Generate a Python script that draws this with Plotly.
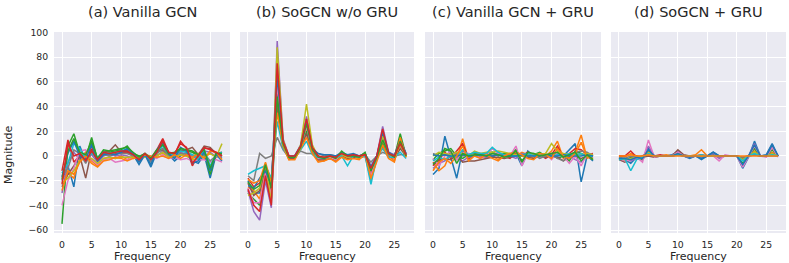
import plotly.graph_objects as go

freq = list(range(28))

titles = ["(a) Vanilla GCN", "(b) SoGCN w/o GRU", "(c) Vanilla GCN + GRU", "(d) SoGCN + GRU"]
y_ticks = [-60, -40, -20, 0, 20, 40, 60, 80, 100]
x_ticks = [0, 5, 10, 15, 20, 25]
palette = ["#1f77b4", "#ff7f0e", "#2ca02c", "#d62728", "#9467bd",
           "#8c564b", "#e377c2", "#7f7f7f", "#bcbd22", "#17becf"]

vanilla_gcn = [
    [-20, -8, -25, 8, -4, 9, -6, 2, 0, 1, 3, 5, 1, -7, 1, -9, 3, 9, 1, -4, 0, 3, -4, -6, 1, -18, 1, -4],
    [-18, -14, -18, -2, 3, -4, -8, -2, -1, -2, 0, -3, 0, -2, 0, -1, 1, 2, -1, 0, 1, 0, -2, 0, -1, 2, 0, 1],
    [-55, 8, 18, 2, -2, 15, -3, 4, 3, 4, 5, 8, 2, 0, 1, -3, 4, 6, 1, 2, 5, 4, 3, 0, 3, -15, 2, 0],
    [-12, 13, -5, 0, -3, 6, -2, 3, 1, 2, 3, 3, 0, -3, 1, -2, 5, 14, 3, 1, 12, 6, -8, 1, 6, 6, 2, 2],
    [-30, -5, 3, -3, 2, 1, -5, 0, 2, 0, 1, 0, -2, -1, 1, -4, 0, 4, 0, -2, 3, 1, 0, -2, 4, 3, -1, 0],
    [-25, -15, -8, 0, -18, 5, -4, 3, 4, 9, 3, 4, 1, -1, 2, -2, 3, 5, 0, 1, 4, 5, 7, 1, 8, 7, 2, 3],
    [-40, -20, -10, 4, 5, -3, -7, -3, -2, -5, -4, -3, -1, -2, -1, 0, -2, 1, -2, -1, -3, -2, -4, -3, -3, -5, -3, -5],
    [-16, -10, 5, 2, -6, 3, -3, 1, 0, 3, 2, 2, 0, -4, 0, -5, 2, 6, 0, -1, 2, 2, 1, -1, 2, -4, 0, 1],
    [-22, -18, -12, -4, -1, -2, -6, -2, -1, -2, -1, -1, -1, -1, -1, -1, 0, 3, -1, -1, 1, 0, -3, -2, 0, 2, -1, 10],
    [-14, -6, 10, 6, -2, 2, -1, 3, 2, 3, 4, 6, 1, -2, 0, -3, 4, 8, 2, 0, 4, 3, 1, -3, 5, -8, 1, 3],
    [-17, 2, 12, 0, -3, 10, -4, 1, 2, 1, 3, 6, 2, -5, 1, -7, 5, 11, 2, -2, 7, 4, -6, -4, 3, -12, 1, -2],
    [-28, -12, -15, -5, 0, -6, -9, -4, -3, -1, -2, -4, -2, -1, 1, 0, -1, 0, -2, 1, -2, 1, -1, 2, -2, 4, 3, -3],
    [-19, 4, 14, 3, 1, 12, -2, 5, 4, 5, 6, 7, 3, -1, 2, -2, 5, 9, 2, 3, 6, 5, 4, 1, 5, -10, 2, 2],
    [-23, 10, 0, 2, -4, 4, -3, 3, 2, 3, 4, 4, 1, -3, 2, -3, 3, 12, 3, 2, 10, 7, -6, 0, 7, 5, 3, 0],
]

sogcn_no_gru = [
    [-20, -30, -30, -15, -25, 70, 10, -2, -1, 8, 30, 5, -2, -3, -1, -3, 2, -1, 0, -1, 1, -15, -2, 18, 2, -1, 12, 1],
    [-25, -28, -35, -12, -30, 55, 8, -3, -2, 6, 22, 3, -4, -4, -2, -4, 0, -2, -1, -2, 0, -20, -3, 12, 0, -4, 10, -1],
    [-30, -35, -40, -18, -35, 45, 9, -1, -1, 7, 20, 4, -2, -2, -1, -2, 1, -1, 0, -1, 1, -12, -1, 10, 1, -1, 18, 0],
    [-18, -25, -22, -8, -20, 50, 12, 0, 0, 8, 25, 6, 0, -3, 0, -2, 3, 0, 1, 0, 2, -10, 0, 15, 2, 0, 14, 1],
    [-28, -45, -52, -20, -42, 93, 14, 0, 0, 9, 32, 8, -1, -1, 0, -1, 2, 0, 1, 0, 1, -8, 0, 24, 3, 1, 8, 2],
    [-22, -32, -28, -10, -28, 40, 7, -2, -2, 6, 18, 2, -3, -3, -2, -3, 1, -2, -1, -1, 0, -14, -2, 8, 0, -2, 6, 0],
    [-26, -38, -38, -14, -32, 60, 10, -1, -1, 7, 24, 5, -2, -2, -1, -3, 2, -1, 0, -1, 1, -16, -1, 14, 1, -2, 11, 1],
    [-16, -20, 2, -2, 0, 15, 5, -1, -1, 4, 2, 2, 2, 0, 1, 0, 1, 0, 0, 0, 1, -5, 0, 3, 1, 0, 1, 1],
    [-32, -30, -26, -6, -38, 88, 13, -1, -1, 9, 42, 9, -1, -1, 0, -2, 1, -1, 0, -1, 1, -11, -1, 16, 2, -1, 9, 0],
    [-15, -12, -10, -8, -18, 28, 6, -1, 0, 5, 12, 1, -1, -2, 0, -1, 0, -8, 0, -1, 0, -23, -1, 6, -1, -1, 3, -2],
    [-24, -26, -18, -12, -24, 65, 11, -1, 0, 8, 28, 6, 2, 1, 1, 0, 3, 1, 2, 0, 2, -9, 0, 20, 3, 0, 13, 2],
    [-19, -22, -20, -5, -22, 35, 8, -3, -3, 6, 15, 2, -5, -4, -2, -5, -1, -3, -2, -3, 2, -18, -4, 9, -2, -5, 15, -1],
    [-21, -27, -24, -7, -26, 48, 10, -1, -1, 7, 26, 5, -1, -2, 0, -2, 4, 0, 0, -1, 3, -12, -1, 13, 2, -1, 12, 0],
    [-27, -40, -45, -16, -40, 75, 12, 0, 0, 8, 30, 7, 0, -1, 0, -1, 2, 0, 1, 0, 1, -10, 0, 22, 2, 0, 10, 1],
]

vanilla_gcn_gru = [
    [-15, -10, 16, 0, -18, 5, -2, 1, 0, 2, 3, 1, 0, -1, 2, -8, 4, 0, 1, 0, 1, 2, 0, 5, 10, -21, 0, -4],
    [-5, -12, -8, 3, -3, 14, -3, 2, 0, -1, 0, -3, 1, 2, 0, 3, 1, -2, 2, 0, 4, 12, -2, 0, 3, 17, -2, 1],
    [-3, 2, 4, 6, 0, -2, 1, 2, 1, 2, 3, 0, 2, 1, 5, -4, 2, 1, 3, 0, 2, -2, 0, -4, 4, 2, 0, -3],
    [-8, -3, 3, -2, 4, 10, -2, 1, 2, 0, -1, 2, 0, -2, 3, 0, 3, 0, 1, -2, 1, 8, -1, 2, 6, 5, 1, 2],
    [-10, -6, -4, 2, -2, -4, -1, 0, -1, -1, 2, 1, 0, 0, -2, 2, 0, 1, -1, 0, -1, 0, 1, 0, -3, -5, 1, 0],
    [-6, -4, -2, -3, 1, -5, -4, -4, -3, -2, -1, -1, -2, -1, 0, 0, -1, -2, 0, -1, 0, -1, -4, -1, 0, -2, 0, -2],
    [-2, -8, 0, 4, -3, 3, 2, 1, -2, 0, 6, 2, -1, 0, 8, -8, 2, 0, -1, 2, -3, 3, 0, -6, 0, -8, 2, 1],
    [2, 0, 1, -1, 2, 0, 1, 0, 1, 1, 0, 1, 0, 1, 0, 1, 0, 1, -2, 0, 1, -2, -4, 1, 3, 4, 3, 0],
    [0, 3, 2, 1, 3, 2, 0, 4, 2, 3, 3, 4, 3, 2, 1, 0, 1, 2, 1, 2, 10, 4, 2, 1, 2, 1, 2, 1],
    [-4, -1, -3, 0, -1, 5, 1, 3, 2, 2, 7, 3, 1, 0, 0, 1, 2, 0, 1, 1, 0, 1, 0, 2, 1, 2, -1, 0],
    [1, 0, 1, 0, 0, 1, 0, 0, 1, 0, 0, 1, 0, 0, 0, 1, 0, 0, 0, 1, 0, 0, 1, 0, 0, 0, 1, 0],
    [-12, -5, -2, -6, 0, 8, -4, 0, -2, 1, -2, -4, 0, 2, 3, 1, -2, -3, 2, 1, -2, 6, 0, -2, 2, 11, -1, -2],
    [-7, -2, 6, 4, -6, 2, 0, 1, 1, 0, 2, 1, -1, 0, 4, -5, 3, 2, 0, 1, 2, 3, -1, 1, 3, -4, 1, -3],
]

sogcn_gru = [
    [-2, -3, -6, -1, -3, 6, 0, 0, 0, 1, 3, 0, -2, 0, -3, 0, 3, 0, 0, 0, 0, -10, -1, 12, 0, 1, 10, 0],
    [0, -1, 2, 0, -1, 2, 0, 0, 1, 0, 1, 0, 0, 1, 5, 0, 0, -1, 0, 0, 0, -3, 0, 4, 0, 0, 3, 0],
    [-2, -4, -1, -2, -3, 4, -1, 0, 0, 0, 2, 0, -1, 0, 0, 0, 1, 0, 0, 0, 0, -6, 0, 6, 0, 0, 5, 0],
    [0, 0, 4, -1, 0, 3, 0, 1, 0, 0, 1, 0, 0, 0, 1, 0, 0, 0, 0, 0, 0, -1, 0, 2, 0, 0, 2, 0],
    [-1, -3, -4, -2, -2, 8, 0, 0, 0, 0, 4, 0, -1, 0, -1, 0, 2, -2, 0, 0, 0, -8, 0, 10, 0, 0, 8, 0],
    [-3, -5, -2, 0, -1, 0, -1, 0, 0, 0, 5, 1, 0, 0, 0, 0, 0, 0, 0, 0, 0, -2, 0, 1, 0, 0, 1, 0],
    [-2, -4, -3, -1, -5, 13, -1, 0, 0, 0, 3, 0, -1, 0, 0, 0, 0, -4, 1, 0, 0, -9, 0, 8, 0, -1, 7, -1],
    [-1, -2, 0, -1, 0, 1, 0, 0, 0, 0, 1, 0, 0, 0, 0, 0, 0, 0, 0, 0, 0, -1, 0, 1, 0, 0, 0, 0],
    [-2, -3, -2, -1, -1, 3, 0, 0, 0, 0, 2, 0, 0, 0, 0, 0, 0, 0, 0, 0, 0, -3, 0, 3, 0, 0, 2, 0],
    [-3, -2, -12, -3, -1, 2, 0, 0, 0, 0, 1, 0, 0, 0, 1, 0, 0, 0, 0, 0, 0, -4, 0, 2, 0, 0, 1, 0],
    [-2, -2, -3, -1, -2, 5, 0, 0, 0, 0, 2, 0, -1, 0, -2, 0, 3, 0, 0, 0, 0, -7, 0, 9, 0, 0, 9, 0],
    [0, 0, 1, 0, 0, 1, 0, 0, 0, 0, 0, 0, 0, 0, 0, 0, 0, 0, 0, 0, 0, 0, 0, 0, 0, 0, 0, 0],
]

panels = [vanilla_gcn, sogcn_no_gru, vanilla_gcn_gru, sogcn_gru]

W, H = 789, 263
ML, MR, MT, MB = 54, 3, 32, 30
pw = W - ML - MR
ph = H - MT - MB
px_domains = [(54, 230), (240, 414), (425, 601), (611, 786)]
domains = [((a - ML) / pw, (b - ML) / pw) for a, b in px_domains]

fig = go.Figure()
for i, panel in enumerate(panels):
    ax = "" if i == 0 else str(i + 1)
    for j, series in enumerate(panel):
        fig.add_trace(go.Scatter(
            x=freq, y=series, mode="lines",
            line=dict(color=palette[j % len(palette)], width=1.5),
            xaxis="x" + ax, yaxis="y" + ax, showlegend=False, hoverinfo="skip"))

tick_font = dict(family="DejaVu Sans", size=9.3, color="#262626")
grid = dict(showgrid=True, gridcolor="white", gridwidth=1.1, zeroline=False,
            showline=False, ticks="outside", ticklen=3, tickcolor="rgba(0,0,0,0)",
            tickfont=tick_font)

layout = dict(width=W, height=H, margin=dict(l=ML, r=MR, t=MT, b=MB),
              paper_bgcolor="white", plot_bgcolor="#EAEAF2",
              font=dict(family="DejaVu Sans", color="#262626"))
annotations = []
for i in range(4):
    ax = "" if i == 0 else str(i + 1)
    layout["xaxis" + ax] = dict(domain=list(domains[i]), range=[-1.35, 28.35],
                                tickvals=x_ticks, anchor="y" + ax, **grid)
    layout["yaxis" + ax] = dict(domain=[0, 1], range=[-62.4, 100.4],
                                tickvals=y_ticks,
                                ticktext=[str(v).replace("-", "\u2212") for v in y_ticks],
                                showticklabels=(i == 0), anchor="x" + ax, **grid)
    cx = (domains[i][0] + domains[i][1]) / 2
    annotations.append(dict(text=titles[i], x=cx, y=1 + 20 / ph,
                            xref="paper", yref="paper", showarrow=False,
                            xanchor="center", yanchor="middle",
                            font=dict(size=14.5, color="#262626")))
    annotations.append(dict(text="Frequency", x=cx, y=-23 / ph,
                            xref="paper", yref="paper", showarrow=False,
                            xanchor="center", yanchor="middle",
                            font=dict(size=11, color="#262626")))
annotations.append(dict(text="Magnitude", x=(8 - ML) / pw, y=(H - MB - 155) / ph,
                        xref="paper", yref="paper", showarrow=False, textangle=-90,
                        xanchor="center", yanchor="middle",
                        font=dict(size=11, color="#262626")))
layout["annotations"] = annotations
fig.update_layout(**layout)
fig.write_html("out.html", config={"displayModeBar": False},
               post_script="document.body.style.margin='0';document.body.style.overflow='hidden';")
